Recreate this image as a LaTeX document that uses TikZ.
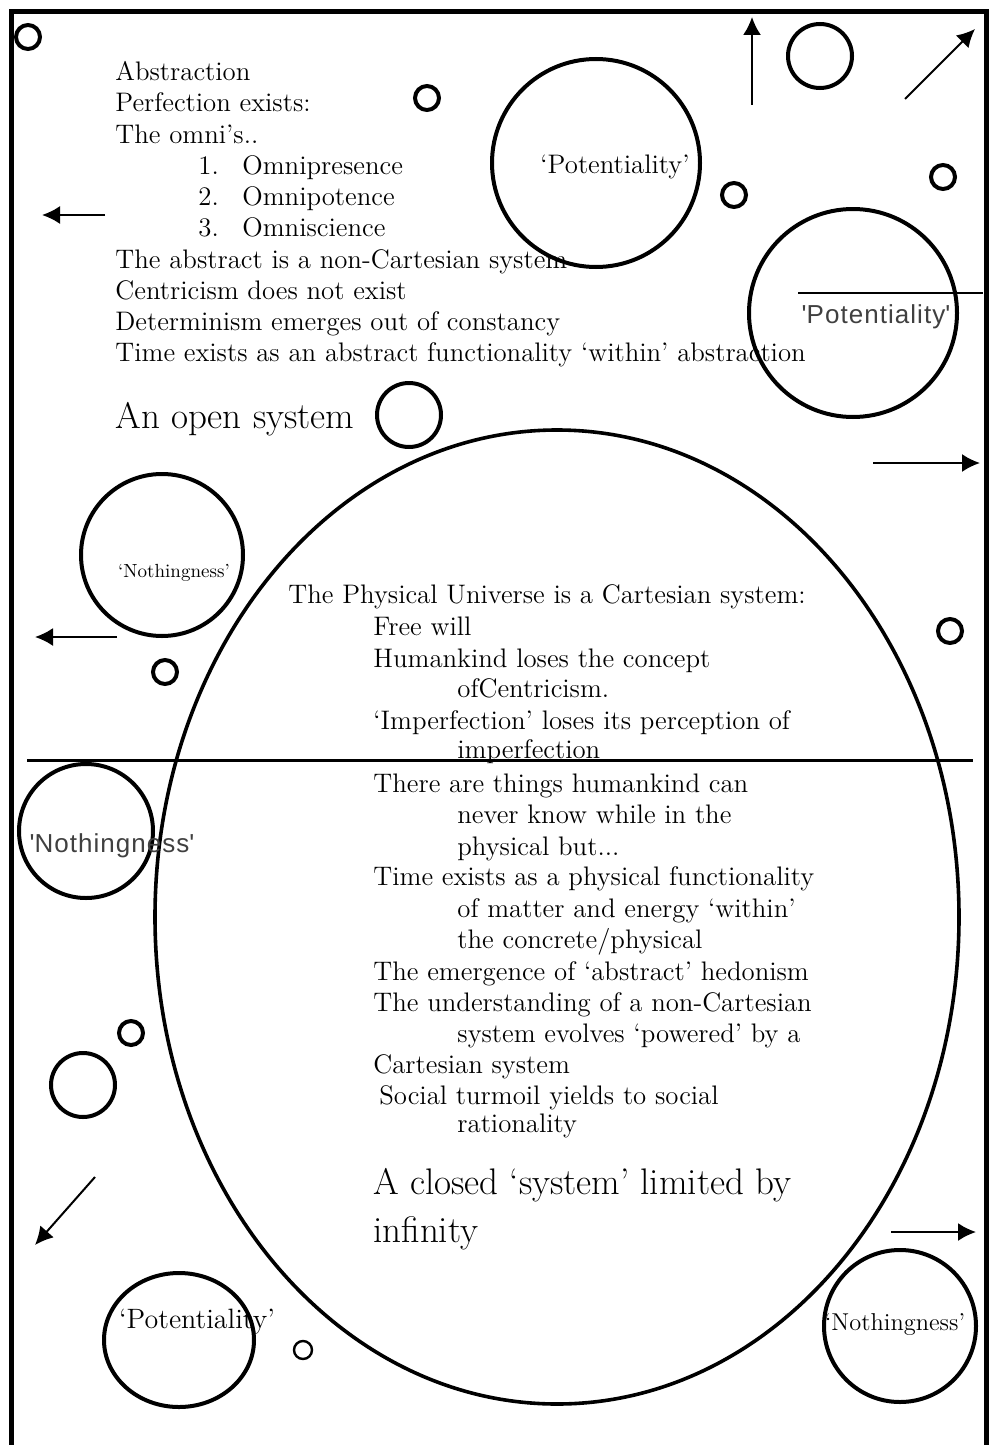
\documentclass[tikz,border=0pt]{standalone}
\usepackage{fontspec}
\newfontfamily\labelsans[LetterSpace=4]{Liberation Sans}
\usetikzlibrary{shapes.geometric, arrows.meta}

\begin{document}
\begin{tikzpicture}[x=0.5pt, y=-0.5pt,
    txt/.style={anchor=base west, inner sep=0pt, font=\fontsize{13.4}{15}\selectfont},
    bigtxt/.style={txt, font=\fontsize{18.5}{21}\selectfont},
    lbl/.style={anchor=base, inner sep=0pt},
    ring/.style={draw, circle, line width=2pt, inner sep=0pt},
    dotring/.style={ring, minimum size=12pt},
    arr/.style={-{Latex[length=9pt, width=9pt]}, line width=1pt}]
    \useasboundingbox (0,0) rectangle (989,1445);

    % frame, open at the bottom
    \draw [line width=2.5pt] (11,1445) -- (11,12) -- (986,12) -- (986,1445);

    % abstraction
    \node [txt] (abs) at (115,81) {Abstraction};
    \node [txt] (perf) at (115,112) {Perfection exists:};
    \node [txt] (omni) at (115,143) {The omni’s..};
    \node [txt] (n1) at (198,174) {1.};
    \node [txt] (o1) at (242,174) {Omnipresence};
    \node [txt] (n2) at (198,205) {2.};
    \node [txt] (o2) at (242,205) {Omnipotence};
    \node [txt] (n3) at (198,236) {3.};
    \node [txt] (o3) at (242,236) {Omniscience};
    \node [txt] (ncart) at (115,268) {The abstract is a non-Cartesian system};
    \node [txt] (centr) at (115,299) {Centricism does not exist};
    \node [txt] (determ) at (115,330) {Determinism emerges out of constancy};
    \node [txt] (tabs) at (115,361) {Time exists as an abstract functionality ‘within’ abstraction};
    \node [bigtxt] (open) at (115,428) {An open system};

    % the physical universe
    \node [draw, ellipse, line width=1.8pt, inner sep=0pt,
        minimum width=402pt, minimum height=487pt] (univ) at (557,917) {};
    \node [txt] (phys) at (288,603) {The Physical Universe is a Cartesian system:};
    \node [txt] (free) at (373,635) {Free will};
    \node [txt] (human) at (373,667) {Humankind loses the concept};
    \node [txt] (human2) at (457,697) {ofCentricism.};
    \node [txt] (imperf) at (373,729) {‘Imperfection’ loses its perception of};
    \node [txt] (imperf2) at (457,758) {imperfection};
    \node [txt] (things) at (373,792) {There are things humankind can};
    \node [txt] (things2) at (457,823) {never know while in the};
    \node [txt] (things3) at (457,855) {physical but...};
    \node [txt] (tphys) at (373,885) {Time exists as a physical functionality};
    \node [txt] (tphys2) at (457,917) {of matter and energy ‘within’};
    \node [txt] (tphys3) at (457,948) {the concrete/physical};
    \node [txt] (hedon) at (373,980) {The emergence of ‘abstract’ hedonism};
    \node [txt] (under) at (373,1011) {The understanding of a non-Cartesian};
    \node [txt] (under2) at (457,1042) {system evolves ‘powered’ by a};
    \node [txt] (under3) at (373,1073) {Cartesian system};
    \node [txt] (social) at (379,1104) {Social turmoil yields to social};
    \node [txt] (social2) at (457,1132) {rationality};
    \node [bigtxt] (closed) at (373,1194) {A closed ‘system’ limited by};
    \node [bigtxt] (closed2) at (373,1242) {infinity};

    % bubbles
    \node [ring, minimum size=104pt] (pot1) at (596,163) {};
    \node [lbl, font=\fontsize{13.4}{15}\selectfont] (pot1t) at (615,173) {‘Potentiality’};
    \node [ring, minimum size=104pt] (pot2) at (853,313) {};
    \node [lbl, font=\labelsans\fontsize{13}{15}\selectfont, text=black!75] (pot2t) at (876,323) {\textquotesingle Potentiality\textquotesingle};
    \node [draw, ellipse, line width=2pt, inner sep=0pt,
        minimum width=75pt, minimum height=67pt] (pot3) at (179,1340) {};
    \node [lbl, font=\fontsize{14}{16}\selectfont] (pot3t) at (197,1328) {‘Potentiality’};
    \node [ring, minimum size=81pt] (not1) at (162,555) {};
    \node [lbl, font=\fontsize{9.5}{11}\selectfont] (not1t) at (174,577) {‘Nothingness’};
    \node [ring, minimum size=67pt] (not2) at (86,831) {};
    \node [lbl, font=\labelsans\fontsize{13}{15}\selectfont, text=black!75] (not2t) at (112,852) {\textquotesingle Nothingness\textquotesingle};
    \node [ring, minimum size=76pt] (not3) at (900,1326) {};
    \node [lbl, font=\fontsize{12.2}{14}\selectfont] (not3t) at (895,1330) {‘Nothingness’};

    \node [ring, minimum size=32pt] (c1) at (820,56) {};
    \node [ring, minimum size=32pt] (c2) at (409,415) {};
    \node [ring, minimum size=32pt] (c3) at (83,1085) {};

    \node [dotring] (s1) at (28,37) {};
    \node [dotring] (s2) at (427,98) {};
    \node [dotring] (s3) at (734,195) {};
    \node [dotring] (s4) at (943,177) {};
    \node [dotring] (s5) at (165,672) {};
    \node [dotring] (s6) at (950,631) {};
    \node [dotring] (s7) at (131,1033) {};
    \node [ring, line width=1.2pt, minimum size=9pt] (s8) at (303,1350) {};

    % dividing lines
    \coordinate (cutl) at (27,760);
    \coordinate (cutr) at (973,760);
    \draw [line width=1.5pt] (cutl) -- (cutr);
    \coordinate (potl) at (798,293);
    \coordinate (potr) at (983,293);
    \draw [line width=1.2pt] (potl) -- (potr);

    % arrows
    \coordinate (a1s) at (752,105);
    \coordinate (a1e) at (752,17);
    \coordinate (a2s) at (905,99);
    \coordinate (a2e) at (975,29);
    \coordinate (a3s) at (105,215);
    \coordinate (a3e) at (42,215);
    \coordinate (a4s) at (873,463);
    \coordinate (a4e) at (980,463);
    \coordinate (a5s) at (117,637);
    \coordinate (a5e) at (35,637);
    \coordinate (a6s) at (95,1177);
    \coordinate (a6e) at (35,1245);
    \coordinate (a7s) at (891,1232);
    \coordinate (a7e) at (976,1232);
    \draw [arr] (a1s) -- (a1e);
    \draw [arr] (a2s) -- (a2e);
    \draw [arr] (a3s) -- (a3e);
    \draw [arr] (a4s) -- (a4e);
    \draw [arr] (a5s) -- (a5e);
    \draw [arr] (a6s) -- (a6e);
    \draw [arr] (a7s) -- (a7e);
\end{tikzpicture}
\end{document}
